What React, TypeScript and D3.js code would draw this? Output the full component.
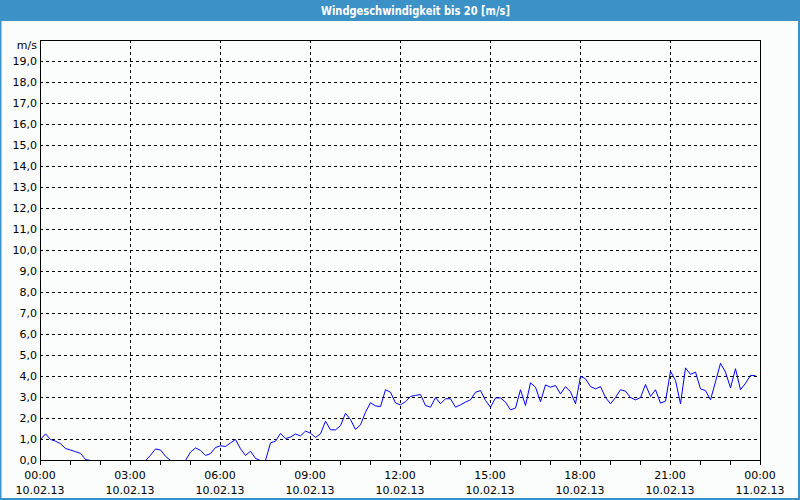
import React from "react";
import * as d3 from "d3";

const title = "Windgeschwindigkeit bis 20 [m/s]";
const unitLabel = "m/s";
const startTime = new Date(2013, 1, 10, 0, 0);
const endTime = new Date(2013, 1, 11, 0, 0);
const stepMinutes = 10;
// wind speed [m/s], one value every 10 minutes starting 10.02.13 00:00
const windSpeed = [
  1.0, 1.27, 1.0, 0.92, 0.8, 0.57, 0.5, 0.42, 0.34, 0.05,
  0, 0, 0, 0, 0, 0, 0, 0, 0, 0,
  0, 0, 0.25, 0.55, 0.5, 0.2, 0, 0, 0, 0,
  0.4, 0.6, 0.48, 0.24, 0.33, 0.62, 0.7, 0.67, 0.84, 1.0,
  0.56, 0.24, 0.44, 0.1, 0, 0, 0.84, 0.92, 1.29, 1.04,
  1.12, 1.26, 1.17, 1.4, 1.3, 1.1, 1.27, 1.87, 1.46, 1.46,
  1.66, 2.25, 1.95, 1.48, 1.7, 2.3, 2.75, 2.6, 2.57, 3.37,
  3.25, 2.74, 2.65, 2.8, 3.05, 3.1, 3.14, 2.62, 2.54, 3.0,
  2.7, 2.94, 2.94, 2.54, 2.65, 2.78, 2.89, 3.25, 3.33, 2.86,
  2.54, 2.98, 2.98, 2.78, 2.41, 2.5, 3.37, 2.62, 3.7, 3.49,
  2.8, 3.6, 3.49, 3.57, 3.17, 3.52, 3.27, 2.7, 4.01, 3.89,
  3.52, 3.41, 3.52, 3.0, 2.7, 3.0, 3.37, 3.3, 3.0, 2.89,
  3.0, 3.62, 3.05, 3.37, 2.73, 2.83, 4.25, 3.81, 2.7, 4.41,
  4.1, 4.21, 3.41, 3.33, 2.89, 3.75, 4.63, 4.21, 3.46, 4.37,
  3.37, 3.68, 4.05, 4.05,
];
const yTicks = d3.range(0, 20, 1);

const W = 800;
const H = 500;
const left = 40;
const right = 760;
const top = 40;
const bottom = 460;
const font = "'DejaVu Sans', Verdana, sans-serif";

export default function App() {
  const x = d3.scaleTime().domain([startTime, endTime]).range([left, right]);
  // grid/labels scale (pixel rows) and line scale (pixel centers)
  const y = d3.scaleLinear().domain([0, 20]).range([bottom, top]);
  const yLine = d3.scaleLinear().domain([0, 20]).range([bottom + 0.5, top + 0.5]);
  const points = windSpeed.map((v, i) => ({
    t: new Date(startTime.getTime() + i * stepMinutes * 60000),
    v,
  }));
  const line = d3
    .line<{ t: Date; v: number }>()
    .x((d) => x(d.t) + 0.5)
    .y((d) => yLine(d.v));
  const majorTicks = x.ticks(d3.timeHour.every(3)!);
  const minorTicks = x.ticks(d3.timeHour.every(1)!);
  const fmtTime = d3.timeFormat("%H:%M");
  const fmtDate = d3.timeFormat("%d.%m.%y");
  const fmtY = (v: number) => v.toFixed(1).replace(".", ",");

  return (
    <svg
      width={W}
      height={H}
      style={{ position: "absolute", left: 0, top: 0, background: "#fbfdfc" }}
      fontFamily={font}
    >
      <rect x={0} y={0} width={W} height={H} fill="#fbfdfc" />
      <rect x={0} y={0} width={W} height={21} fill="#3c91c6" />
      <rect x={0.5} y={0.5} width={W - 1.5} height={H - 1.5} fill="none" stroke="#3c91c6" strokeWidth={2} />
      <text
        x={321}
        y={14.5}
        textAnchor="start"
        fill="#ffffff"
        fontSize={11.5}
        fontWeight="bold"
        textLength={189}
        lengthAdjust="spacingAndGlyphs"
      >
        {title}
      </text>

      {/* horizontal grid */}
      {yTicks.filter((v) => v > 0).map((v) => (
        <line
          key={"hg" + v}
          x1={left}
          x2={right}
          y1={Math.round(y(v)) + 0.5}
          y2={Math.round(y(v)) + 0.5}
          stroke="#000"
          strokeDasharray="3,3"
          shapeRendering="crispEdges"
        />
      ))}
      {/* vertical grid */}
      {majorTicks.slice(1, -1).map((t) => (
        <line
          key={"vg" + t.getTime()}
          x1={Math.round(x(t)) + 0.5}
          x2={Math.round(x(t)) + 0.5}
          y1={top}
          y2={bottom}
          stroke="#000"
          strokeDasharray="3,3"
          shapeRendering="crispEdges"
        />
      ))}
      <path d={line(points) || ""} fill="none" stroke="#0000ff" strokeWidth={1} />
      {/* frame */}
      <rect
        x={left + 0.5}
        y={top + 0.5}
        width={right - left}
        height={bottom - top}
        fill="none"
        stroke="#000"
        shapeRendering="crispEdges"
      />
      {/* minor x ticks */}
      {minorTicks.map((t) => (
        <line
          key={"mt" + t.getTime()}
          x1={Math.round(x(t)) + 0.5}
          x2={Math.round(x(t)) + 0.5}
          y1={bottom}
          y2={bottom + 5}
          stroke="#000"
          shapeRendering="crispEdges"
        />
      ))}
      {/* y labels */}
      {yTicks.map((v) => (
        <text key={"yl" + v} x={37} y={y(v) + 4} textAnchor="end" fontSize={11} fill="#000">
          {fmtY(v)}
        </text>
      ))}
      <text x={37} y={49} textAnchor="end" fontSize={11} fill="#000">
        {unitLabel}
      </text>
      {/* x labels */}
      {majorTicks.map((t) => (
        <g key={"xl" + t.getTime()}>
          <text x={x(t)} y={479} textAnchor="middle" fontSize={11} fill="#000">
            {fmtTime(t)}
          </text>
          <text x={x(t)} y={494} textAnchor="middle" fontSize={11} fill="#000">
            {fmtDate(t)}
          </text>
        </g>
      ))}
    </svg>
  );
}
